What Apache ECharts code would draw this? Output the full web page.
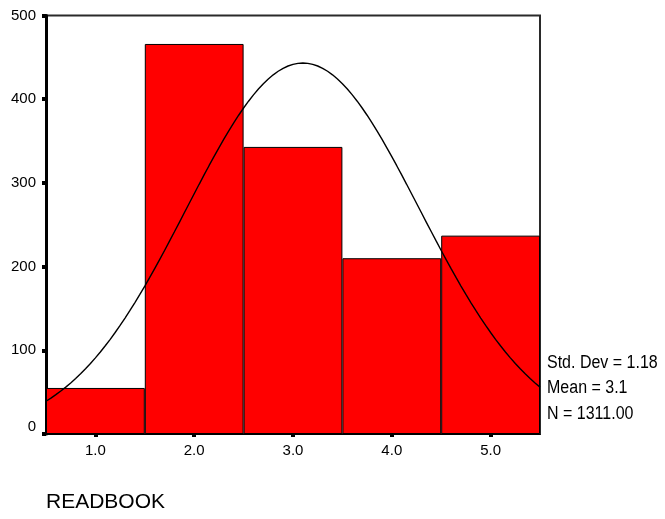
<!DOCTYPE html>
<html>
<head>
<meta charset="utf-8">
<script src="https://cdn.jsdelivr.net/npm/echarts@6/dist/echarts.min.js"></script>
<style>
  html, body { margin: 0; padding: 0; background: #fff; }
  #chart { width: 665px; height: 519px; }
</style>
</head>
<body>
<div id="chart"></div>
<script>
// Histogram of READBOOK responses with fitted normal curve
const categories = ['1.0', '2.0', '3.0', '4.0', '5.0'];
const counts = [55, 466, 343, 210, 237];
const yTicks = [0, 100, 200, 300, 400, 500];

// Summary statistics shown beside the plot
const stdDev = 1.18;
const mean = 3.1;
const total = 1311;
const binWidth = 1;

// Normal curve scaled to the histogram (count per bin)
const curve = [];
for (let i = 0; i <= 100; i++) {
  const x = 0.5 + i * 0.05;
  const z = (x - mean) / stdDev;
  const y = total * binWidth / (stdDev * Math.sqrt(2 * Math.PI)) * Math.exp(-0.5 * z * z);
  curve.push([x, y]);
}

const font = '"Liberation Sans", Arial, sans-serif';
const chart = echarts.init(document.getElementById('chart'));

chart.setOption({
  animation: false,
  backgroundColor: '#ffffff',
  grid: {
    left: 46, top: 15.5, width: 494, height: 418.5,
    show: true, borderColor: '#2a2a2a', borderWidth: 2, backgroundColor: 'transparent'
  },
  xAxis: [
    {
      type: 'category',
      data: categories,
      boundaryGap: true,
      axisLine: { show: true, lineStyle: { color: '#000', width: 1 } },
      axisTick: { show: true, alignWithLabel: true, length: 3, lineStyle: { color: '#000', width: 4 } },
      axisLabel: { color: '#000', fontSize: 15, fontFamily: font, margin: 9 },
      splitLine: { show: false }
    },
    {
      type: 'value',
      min: 0.5, max: 5.5,
      show: false
    }
  ],
  yAxis: {
    type: 'value',
    min: yTicks[0], max: yTicks[yTicks.length - 1], interval: 100,
    axisLine: { show: true, lineStyle: { color: '#000', width: 3 } },
    axisTick: { show: true, length: 4, lineStyle: { color: '#000', width: 4 } },
    axisLabel: {
      color: '#000', fontSize: 15, fontFamily: font, margin: 10,
      verticalAlignMinLabel: 'bottom'
    },
    splitLine: { show: false }
  },
  series: [
    {
      type: 'bar',
      data: counts,
      xAxisIndex: 0,
      barCategoryGap: 0,
      barGap: 0,
      itemStyle: { color: '#ff0000', borderColor: '#000', borderWidth: 1 },
      z: 2
    },
    {
      type: 'line',
      data: curve,
      xAxisIndex: 1,
      showSymbol: false,
      smooth: false,
      lineStyle: { color: '#000', width: 1.4 },
      z: 3
    }
  ],
  graphic: [
    { type: 'text', left: 547, top: 354, scaleY: 1.1, style: { text: 'Std. Dev = ' + stdDev.toFixed(2), fill: '#000', font: '16px ' + font } },
    { type: 'text', left: 547, top: 379, scaleY: 1.1, style: { text: 'Mean = ' + mean.toFixed(1), fill: '#000', font: '16px ' + font } },
    { type: 'text', left: 547, top: 405, scaleY: 1.1, style: { text: 'N = ' + total.toFixed(2), fill: '#000', font: '16px ' + font } },
    { type: 'text', left: 46, top: 492, style: { text: 'READBOOK', fill: '#000', font: '21px ' + font } }
  ]
});
</script>
</body>
</html>
